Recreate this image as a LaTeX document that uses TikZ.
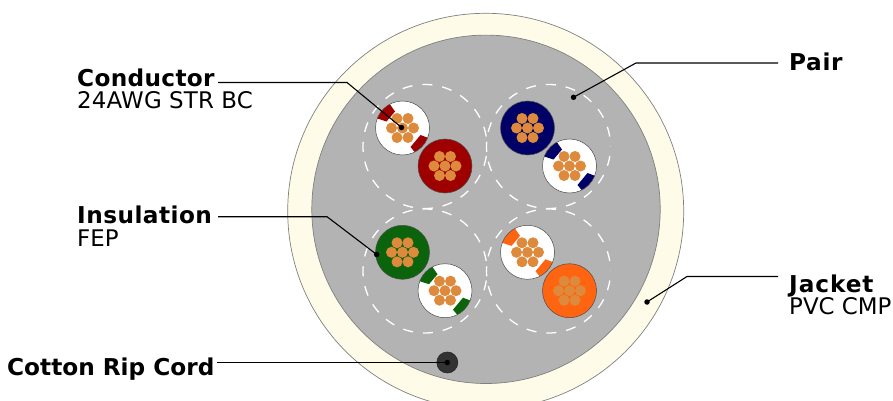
\documentclass[tikz,border=0pt]{standalone}
\usepackage{fontspec}
\setmainfont{DejaVu Sans}
\definecolor{jacketc}{HTML}{FEFCE8}
\definecolor{corec}{HTML}{B3B3B3}
\definecolor{strandc}{HTML}{DD8A3C}
\definecolor{redc}{HTML}{9E0000}
\definecolor{bluec}{HTML}{000066}
\definecolor{greenc}{HTML}{0B640B}
\definecolor{orangec}{HTML}{FF6410}
\tikzset{
  edge/.style={draw=black!50,line width=0.7pt},
  wireedge/.style={draw=black!70,line width=0.5pt},
  pairring/.style={draw=white,line width=1.3pt,dash pattern=on 10pt off 10pt,dash phase=10.5pt},
  dotmark/.style={circle,fill=black,inner sep=0pt,minimum size=5.5pt},
  leader/.style={draw=black,line width=1.1pt},
  head/.style={font=\fontsize{23.2}{24}\selectfont\bfseries,inner sep=0pt,anchor=base west},
  sub/.style={font=\fontsize{22.9}{24}\selectfont,inner sep=0pt,anchor=base west},
}
\newcommand{\spc}[1]{\addfontfeature{LetterSpace=#1}}
\newcommand{\strands}[2]{%
  \begin{scope}[shift={(#1,#2)}]
    \foreach \a in {0,60,...,300}{\fill[strandc] (\a:11) circle[radius=5.5];}
    \fill[strandc] (0,0) circle[radius=5.5];
  \end{scope}}
\newcommand{\solidwire}[3]{%
  \path[wireedge,fill=#3] (#1,#2) circle[radius=27];
  \strands{#1}{#2}}
\newcommand{\stripedwire}[3]{%
  \begin{scope}
    \clip (#1,#2) circle[radius=27];
    \fill[white] (#1,#2) circle[radius=27];
    \begin{scope}[shift={(#1,#2)}]
      \fill[#3] (-16,-6.5) -- (-7.5,-16.5) -- (-17,-30) -- (-30,-11) -- cycle;
      \fill[#3] (8,19) -- (18,7) -- (31,12) -- (18,31) -- cycle;
    \end{scope}
  \end{scope}
  \draw[wireedge] (#1,#2) circle[radius=27];
  \strands{#1}{#2}}
\begin{document}
\begin{tikzpicture}[x=1pt,y=-1pt]
\clip (0,0) rectangle (893,401);
\fill[white] (0,0) rectangle (893,401);
% cable
\path[edge,fill=jacketc] (485.7,211.3) circle[radius=198];
\path[edge,fill=corec] (486,209.3) circle[radius=174.2];
% pair rings
\draw[pairring] (425,146.5) circle[radius=62];
\draw[pairring] (548.5,146.5) circle[radius=62];
\draw[pairring] (425,271) circle[radius=62];
\draw[pairring] (548.5,271) circle[radius=62];
% wires
\stripedwire{402.5}{128}{redc}
\solidwire{445}{166}{redc}
\solidwire{527.5}{128}{bluec}
\stripedwire{569.5}{166}{bluec}
\solidwire{402.5}{252.3}{greenc}
\stripedwire{445}{290.7}{greenc}
\stripedwire{527.5}{252.3}{orangec}
\solidwire{569.5}{290.7}{orangec}
% rip cord
\path[draw=black!85,fill=black!80,line width=0.6pt] (447.3,362.5) circle[radius=10.5];
% labels
\node[head] (condT) at (77,86.5) {\spc{1.4}Conductor};
\node[sub] (condS) at (77,108.5) {\spc{0.7}24AWG STR BC};
\node[head] (insT) at (77,223.5) {\spc{2}Insulation};
\node[sub] (insS) at (77,246.5) {FEP};
\node[head] (ripT) at (7,375) {Cotton Rip Cord};
\node[head] (pairT) at (789,71) {\spc{2.7}Pair};
\node[head] (jackT) at (789,292) {\spc{4}Jacket};
\node[sub] (jackS) at (789,314.5) {PVC CMP};
% leader geometry
\coordinate (condA) at (218,82.5);
\coordinate (condB) at (347,82.5);
\coordinate (insA) at (218,216.7);
\coordinate (insB) at (327,216.7);
\coordinate (pairA) at (778,63);
\coordinate (pairB) at (636,63);
\coordinate (jackA) at (778,276.5);
\coordinate (jackB) at (687,276.5);
\coordinate (ripA) at (217,362.5);
\node[dotmark] (condD) at (401.5,127.5) {};
\node[dotmark] (insD) at (376.7,254.5) {};
\node[dotmark] (pairD) at (573.5,97.3) {};
\node[dotmark] (jackD) at (647,302) {};
\node[dotmark] (ripD) at (447.3,362.5) {};
\draw[leader] (condA) -- (condB) -- (condD.center);
\draw[leader] (insA) -- (insB) -- (insD.center);
\draw[leader] (pairA) -- (pairB) -- (pairD.center);
\draw[leader] (jackA) -- (jackB) -- (jackD.center);
\draw[leader] (ripA) -- (ripD.center);
\end{tikzpicture}
\end{document}
